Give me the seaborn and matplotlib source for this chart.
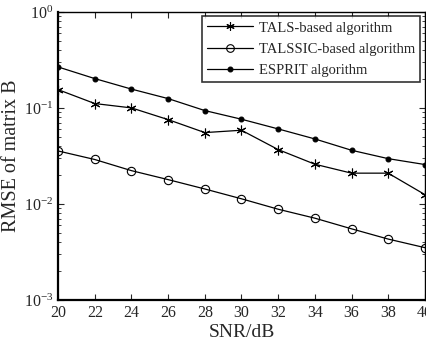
import matplotlib
matplotlib.use("Agg")
import matplotlib.pyplot as plt
import seaborn as sns
import pandas as pd
import numpy as np

snr = [20, 22, 24, 26, 28, 30, 32, 34, 36, 38, 40]
tals = [0.155, 0.111, 0.100, 0.0755, 0.0553, 0.0585, 0.0368, 0.0259, 0.0209, 0.0209, 0.0125]
talssic = [0.0356, 0.0290, 0.0222, 0.0179, 0.0143, 0.0113, 0.0088, 0.0071, 0.0055, 0.0043, 0.0035]
esprit = [0.267, 0.202, 0.157, 0.125, 0.0938, 0.0762, 0.0604, 0.0475, 0.0362, 0.0296, 0.0257]
series_names = ["TALS-based algorithm", "TALSSIC-based algorithm", "ESPRIT algorithm"]

df = pd.DataFrame({
    "SNR": snr * 3,
    "RMSE": tals + talssic + esprit,
    "method": [series_names[0]] * len(snr) + [series_names[1]] * len(snr) + [series_names[2]] * len(snr),
})

sns.set_style("ticks")
plt.rcParams["font.family"] = ["Liberation Serif", "DejaVu Serif"]
plt.rcParams["mathtext.fontset"] = "stix"

fig = plt.figure(figsize=(4.27, 3.40), dpi=100)
ax = fig.add_axes([0.136, 0.118, 0.859, 0.847])

asterisk = (6, 2, 0)
sns.lineplot(data=df, x="SNR", y="RMSE", hue="method", style="method",
             palette=["black"] * 3, markers=["o", "o", "o"], dashes=False,
             hue_order=series_names, style_order=series_names,
             linewidth=0.9, markersize=6, markerfacecolor="none",
             markeredgecolor="black", markeredgewidth=0.8, ax=ax, legend=True)

lines = ax.get_lines()[:3]
lines[0].set_marker(asterisk)
lines[0].set_markersize(7)
lines[1].set_markersize(6)
lines[2].set_markerfacecolor("black")
lines[2].set_markersize(3.5)

ax.set_yscale("log")
ax.set_ylim(1e-3, 1)
ax.set_xlim(20, 40)
ax.set_xticks(snr)
ax.set_yticks([1e-3, 1e-2, 1e-1, 1])
ax.tick_params(which="both", direction="in", top=True, right=True, labelsize=11.5)
ax.tick_params(which="major", length=4)
ax.tick_params(which="minor", length=2)
ax.tick_params(axis="x", which="minor", bottom=False, top=False)
for s in ax.spines.values():
    s.set_linewidth(1.0)
    s.set_color("black")
ax.spines["bottom"].set_linewidth(1.6)
ax.spines["left"].set_linewidth(1.6)
ax.set_xlabel("SNR/dB", fontsize=14, labelpad=2)
ax.set_ylabel("RMSE of matrix B", fontsize=14.5)
ax.yaxis.set_label_coords(-0.10, 0.5)

handles, labels = ax.get_legend_handles_labels()
handles[0].set_marker(asterisk)
handles[0].set_markersize(6)
handles[1].set_markerfacecolor("none")
handles[1].set_markersize(5.5)
handles[2].set_markerfacecolor("black")
handles[2].set_markersize(3.5)
leg = ax.legend(handles, labels, loc="upper right", fontsize=10.5, frameon=True,
                fancybox=False, edgecolor="black", handlelength=3.2,
                borderaxespad=0.3, labelspacing=0.55, borderpad=0.35, handletextpad=0.4)
leg.get_frame().set_linewidth(1.2)

fig.savefig("out.png", dpi=100)
